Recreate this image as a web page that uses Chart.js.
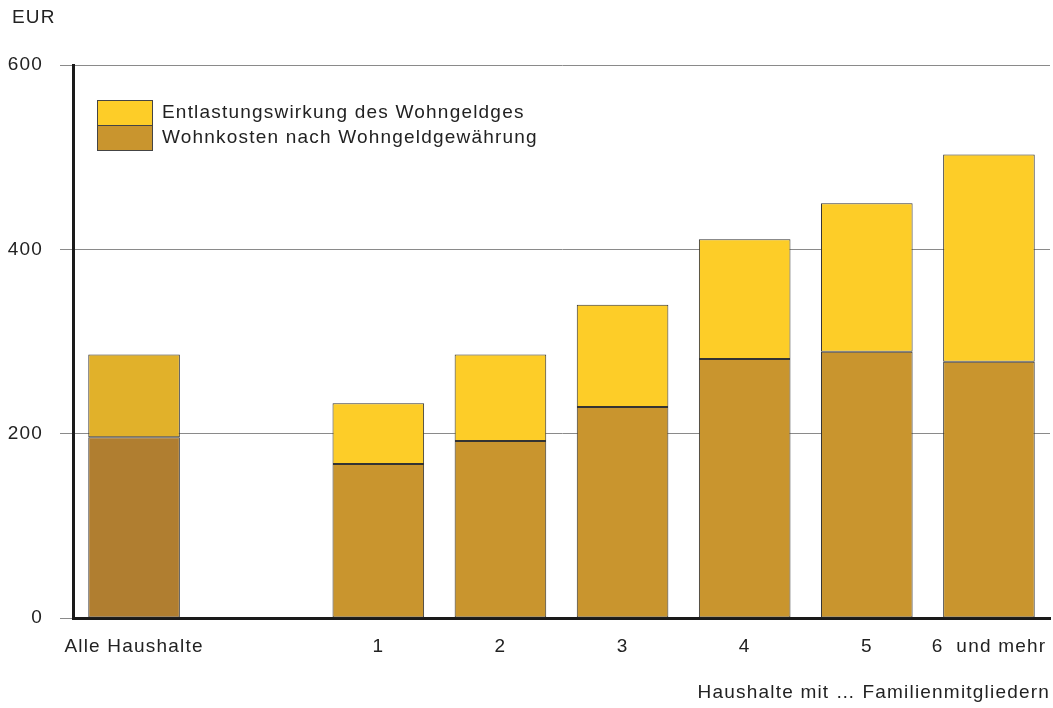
<!DOCTYPE html>
<html>
<head>
<meta charset="utf-8">
<script src="https://cdn.jsdelivr.net/npm/chart.js@4/dist/chart.umd.min.js"></script>
<style>
  body { margin: 0; background: #fff; }
</style>
</head>
<body>
<canvas id="barChart" width="1053" height="708"></canvas>
<script>
// data
var categories = ["Alle Haushalte", "", "1", "2", "3", "4", "5", "6  und mehr"];
var wohnkosten = [196, null, 167, 192, 229, 281, 289, 278];
var entlastung = [90, null, 66, 94, 111, 130, 161, 225];
var yTicks = [0, 200, 400, 600];

var FONT = "'Liberation Sans', Arial, sans-serif";
var SPACING = "1.2px";

// first bar (all households) is drawn in darker shades
function colorFor(normal, alle) {
  return function (c) { return c.dataIndex === 0 ? alle : normal; };
}

var extras = {
  id: "extras",
  beforeDraw: function (chart) {
    chart.ctx.letterSpacing = SPACING;
  },
  afterDraw: function (chart) {
    var ctx = chart.ctx;
    ctx.save();
    ctx.letterSpacing = SPACING;
    ctx.font = "19px " + FONT;
    ctx.fillStyle = "#222";
    ctx.textBaseline = "middle";
    ctx.textAlign = "left";
    ctx.fillText("EUR", 12, 18);
    // legend: boxes stacked on top of each other
    var items = [chart.data.datasets[1], chart.data.datasets[0]];
    var y = 100;
    for (var i = 0; i < items.length; i++) {
      ctx.fillStyle = items[i].legendColor;
      ctx.fillRect(97, y, 55, 25);
      ctx.strokeStyle = "#444";
      ctx.lineWidth = 1;
      ctx.strokeRect(97.5, y + 0.5, 55, 25);
      ctx.fillStyle = "#222";
      ctx.fillText(items[i].label, 162, y + 13);
      y += 25;
    }
    ctx.restore();
  }
};

var ctxB = document.getElementById("barChart").getContext("2d");
var myBarChart = new Chart(ctxB, {
  type: "bar",
  data: {
    labels: categories,
    datasets: [
      {
        label: "Wohnkosten nach Wohngeldgewährung",
        data: wohnkosten,
        backgroundColor: colorFor("#C9952E", "#B07E30"),
        legendColor: "#C9952E",
        borderColor: "#333",
        borderWidth: 1,
        borderSkipped: false,
      },
      {
        label: "Entlastungswirkung des Wohngeldges",
        data: entlastung,
        backgroundColor: colorFor("#FDCD28", "#E1B12A"),
        legendColor: "#FDCD28",
        borderColor: "#333",
        borderWidth: 1,
        borderSkipped: false,
      },
    ],
  },
  options: {
    responsive: false,
    animation: false,
    barPercentage: 0.75,
    categoryPercentage: 1,
    layout: { padding: { top: 65, right: 3, left: 0, bottom: 0 } },
    plugins: {
      legend: { display: false },
      tooltip: { enabled: false },
    },
    scales: {
      x: {
        stacked: true,
        grid: { drawOnChartArea: false, drawTicks: false },
        border: { display: true, color: "#1a1a1a", width: 3 },
        ticks: {
          padding: 17,
          color: "#222",
          maxRotation: 0,
          autoSkip: false,
          font: { family: FONT, size: 19 },
        },
        title: {
          display: true,
          text: "Haushalte mit … Familienmitgliedern",
          align: "end",
          color: "#222",
          padding: { top: 0, bottom: 4 },
          font: { family: FONT, size: 19 },
        },
        afterFit: function (scale) {
          scale.height = 90;
          scale.paddingLeft = 0;
          scale.paddingRight = 0;
        },
      },
      y: {
        stacked: true,
        min: 0,
        max: 600,
        afterBuildTicks: function (scale) {
          scale.ticks = yTicks.map(function (v) { return { value: v }; });
        },
        grid: { color: "#8a8a8a", lineWidth: 1, tickLength: 13 },
        border: { display: true, color: "#1a1a1a", width: 3 },
        ticks: {
          padding: 17,
          color: "#222",
          font: { family: FONT, size: 19 },
        },
        afterFit: function (scale) { scale.width = 73; },
      },
    },
  },
  plugins: [extras],
});
</script>
</body>
</html>
